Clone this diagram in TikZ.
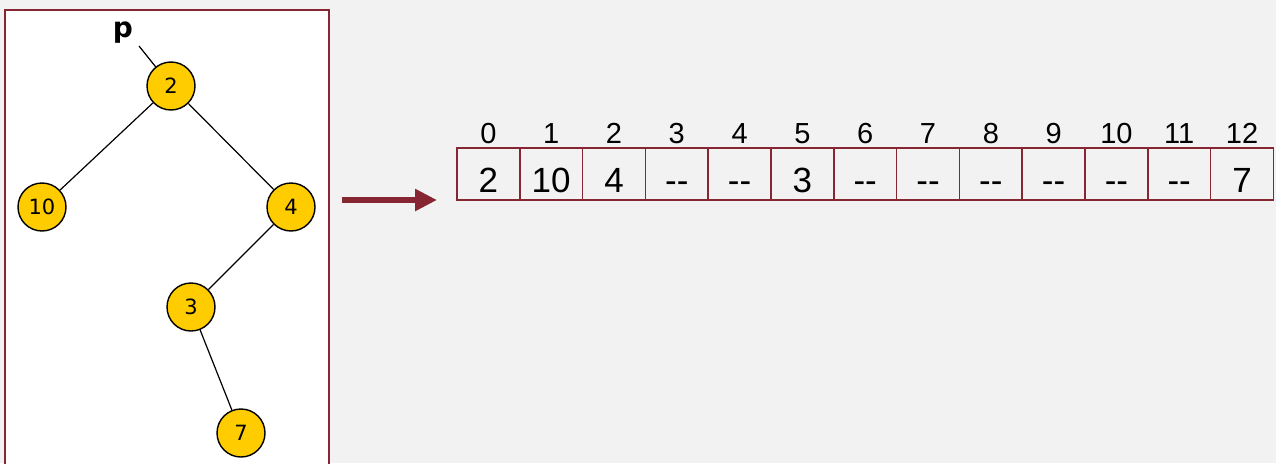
\documentclass[tikz,border=0pt]{standalone}
\usepackage{fontspec}
\setmainfont{Liberation Sans}
\newfontfamily\treefont{DejaVu Sans}
\usetikzlibrary{arrows.meta,positioning}
\definecolor{maroon}{HTML}{862633}
\definecolor{bgray}{HTML}{F2F2F2}
\definecolor{gold}{HTML}{FFCC00}

\begin{document}
\begin{tikzpicture}[
  x=1pt,y=-1pt,
  nd/.style={circle,draw,line width=1.4pt,fill=gold,minimum size=48pt,inner sep=0pt,font=\treefont\fontsize{21}{21}\selectfont},
  cell/.style={draw=maroon,line width=1.5pt,minimum width=62.8pt,minimum height=52pt,inner sep=0pt},
  val/.style={anchor=base,inner sep=0pt,font=\fontsize{35}{35}\selectfont},
  idx/.style={anchor=base,inner sep=0pt,font=\fontsize{29}{29}\selectfont},
  e/.style={line width=1.2pt},
  a/.style={maroon,line width=6pt,-{Triangle[length=22pt,width=21pt]}}
]
\useasboundingbox (0,0) rectangle (1276,463);
\fill[bgray] (0,0) rectangle (1276,463);

% tree panel
\draw[maroon,line width=2pt,fill=white] (5,10) rectangle (329,480);

\node[nd] (n2)  at (171,86)  {2};
\node[nd] (n10) at (42,207)  {10};
\node[nd] (n4)  at (291,207) {4};
\node[nd] (n3)  at (191,307) {3};
\node[nd] (n7)  at (241,433) {7};

\node[inner sep=0pt,font=\treefont\bfseries\fontsize{28}{28}\selectfont] (p) at (123,33) {p};
\coordinate (pend) at (139,46);

\draw[e] (pend) -- (n2);
\draw[e] (n2) -- (n10);
\draw[e] (n2) -- (n4);
\draw[e] (n4) -- (n3);
\draw[e] (n3) -- (n7);

% arrow
\coordinate (a0) at (342,200);
\coordinate (a1) at (437,200);
\draw[a] (a0) -- (a1);

% array
\foreach \v [count=\k from 0] in {2,10,4,-{}-,-{}-,3,-{}-,-{}-,-{}-,-{}-,-{}-,-{}-,7} {
  \node[cell] (c\k) at ({488.4+62.8*\k},174) {};
  \node[val] (v\k) at ({488.4+62.8*\k},192) {\v};
  \node[idx] (i\k) at ({488.4+62.8*\k},143) {\k};
}
\end{tikzpicture}
\end{document}
